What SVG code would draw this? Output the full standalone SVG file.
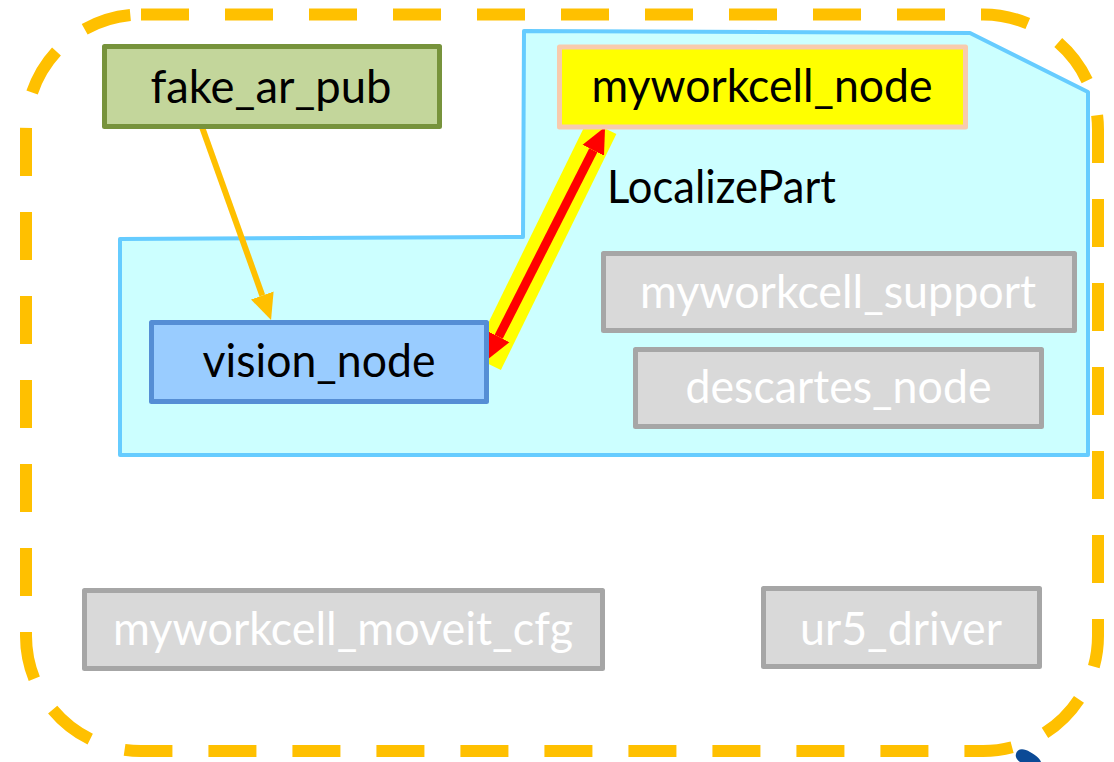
<svg xmlns="http://www.w3.org/2000/svg" width="1114" height="762" viewBox="0 0 1114 762">
  <style>
    .lbl { font-family: Lato, "Open Sans", "Liberation Sans", sans-serif; font-size: 47px; text-anchor: middle; }
    .dark { fill: #000000; }
    .light { fill: #FFFFFF; }
    .box { stroke-width: 5; stroke-linejoin: round; }
    .grey { fill: #D9D9D9; stroke: #A6A6A6; }
  </style>
  <defs>
    <marker id="headOrange" markerUnits="userSpaceOnUse" markerWidth="28" markerHeight="26" refX="0" refY="12" orient="auto" viewBox="0 0 28 24">
      <path d="M0,0 L26,12 L0,24 Z" fill="#FFC000"/>
    </marker>
    <marker id="headRed" markerUnits="userSpaceOnUse" markerWidth="28" markerHeight="26" refX="0" refY="12" orient="auto-start-reverse" viewBox="0 0 28 24">
      <path d="M0,0 L26,12 L0,24 Z" fill="#FF0000"/>
    </marker>
  </defs>

  <rect width="1114" height="762" fill="#FFFFFF"/>

  <!-- workcell boundary -->
  <rect id="workcell" x="26" y="14.5" width="1072" height="736.5" rx="115" ry="115" fill="none" stroke="#FFC000" stroke-width="12" stroke-dasharray="48 36"/>

  <!-- core package region -->
  <path id="core-region" d="M120,239 L523,237 L524,31 L970,33 L1088,92 L1088,455 L120,455 Z" fill="#CCFFFF" stroke="#66CCFF" stroke-width="4" stroke-linejoin="round"/>

  <!-- connectors -->
  <g id="connectors">
    <line x1="202" y1="127" x2="262.3" y2="295.5" stroke="#FFC000" stroke-width="6" marker-end="url(#headOrange)"/>
    <line x1="602" y1="127" x2="486.5" y2="363" stroke="#FFFF00" stroke-width="32"/>
    <line x1="498.7" y1="336.8" x2="593.3" y2="150.2" stroke="#FF0000" stroke-width="9" marker-start="url(#headRed)" marker-end="url(#headRed)"/>
    <text class="lbl dark" x="607" y="203" textLength="229" lengthAdjust="spacingAndGlyphs" style="text-anchor:start">LocalizePart</text>
  </g>

  <g id="fake_ar_pub">
    <rect class="box" x="104.5" y="46.5" width="335" height="80" fill="#C3D69B" stroke="#77933C"/>
    <text class="lbl dark" x="271" y="103" textLength="241" lengthAdjust="spacingAndGlyphs">fake_ar_pub</text>
  </g>

  <g id="myworkcell_node">
    <rect class="box" x="559.5" y="47" width="406" height="80" fill="#FFFF00" stroke="#F8CBAD"/>
    <text class="lbl dark" x="762" y="102" textLength="341" lengthAdjust="spacingAndGlyphs">myworkcell_node</text>
  </g>

  <g id="vision_node">
    <rect class="box" x="151.5" y="322.5" width="335" height="79" fill="#99CCFF" stroke="#558ED5"/>
    <text class="lbl dark" x="319" y="377" textLength="233" lengthAdjust="spacingAndGlyphs">vision_node</text>
  </g>

  <g id="myworkcell_support">
    <rect class="box grey" x="603.5" y="253.5" width="471" height="77"/>
    <text class="lbl light" x="838" y="308" textLength="396" lengthAdjust="spacingAndGlyphs">myworkcell_support</text>
  </g>

  <g id="descartes_node">
    <rect class="box grey" x="635.5" y="349.5" width="406" height="77"/>
    <text class="lbl light" x="838.5" y="403" textLength="306" lengthAdjust="spacingAndGlyphs">descartes_node</text>
  </g>

  <g id="myworkcell_moveit_cfg">
    <rect class="box grey" x="84.5" y="590.5" width="518" height="78"/>
    <text class="lbl light" x="343" y="645" textLength="460" lengthAdjust="spacingAndGlyphs">myworkcell_moveit_cfg</text>
  </g>

  <g id="ur5_driver">
    <rect class="box grey" x="763.5" y="588.5" width="276" height="78"/>
    <text class="lbl light" x="901" y="645" textLength="202" lengthAdjust="spacingAndGlyphs">ur5_driver</text>
  </g>

  <!-- partial dark blue shape at lower edge -->
  <path d="M1016,754 C1017,748 1024,748 1030,752 C1036,755 1040,759 1041,762 L1020,762 C1017,760 1015,757 1016,754 Z" fill="#0B4A96"/>
</svg>
